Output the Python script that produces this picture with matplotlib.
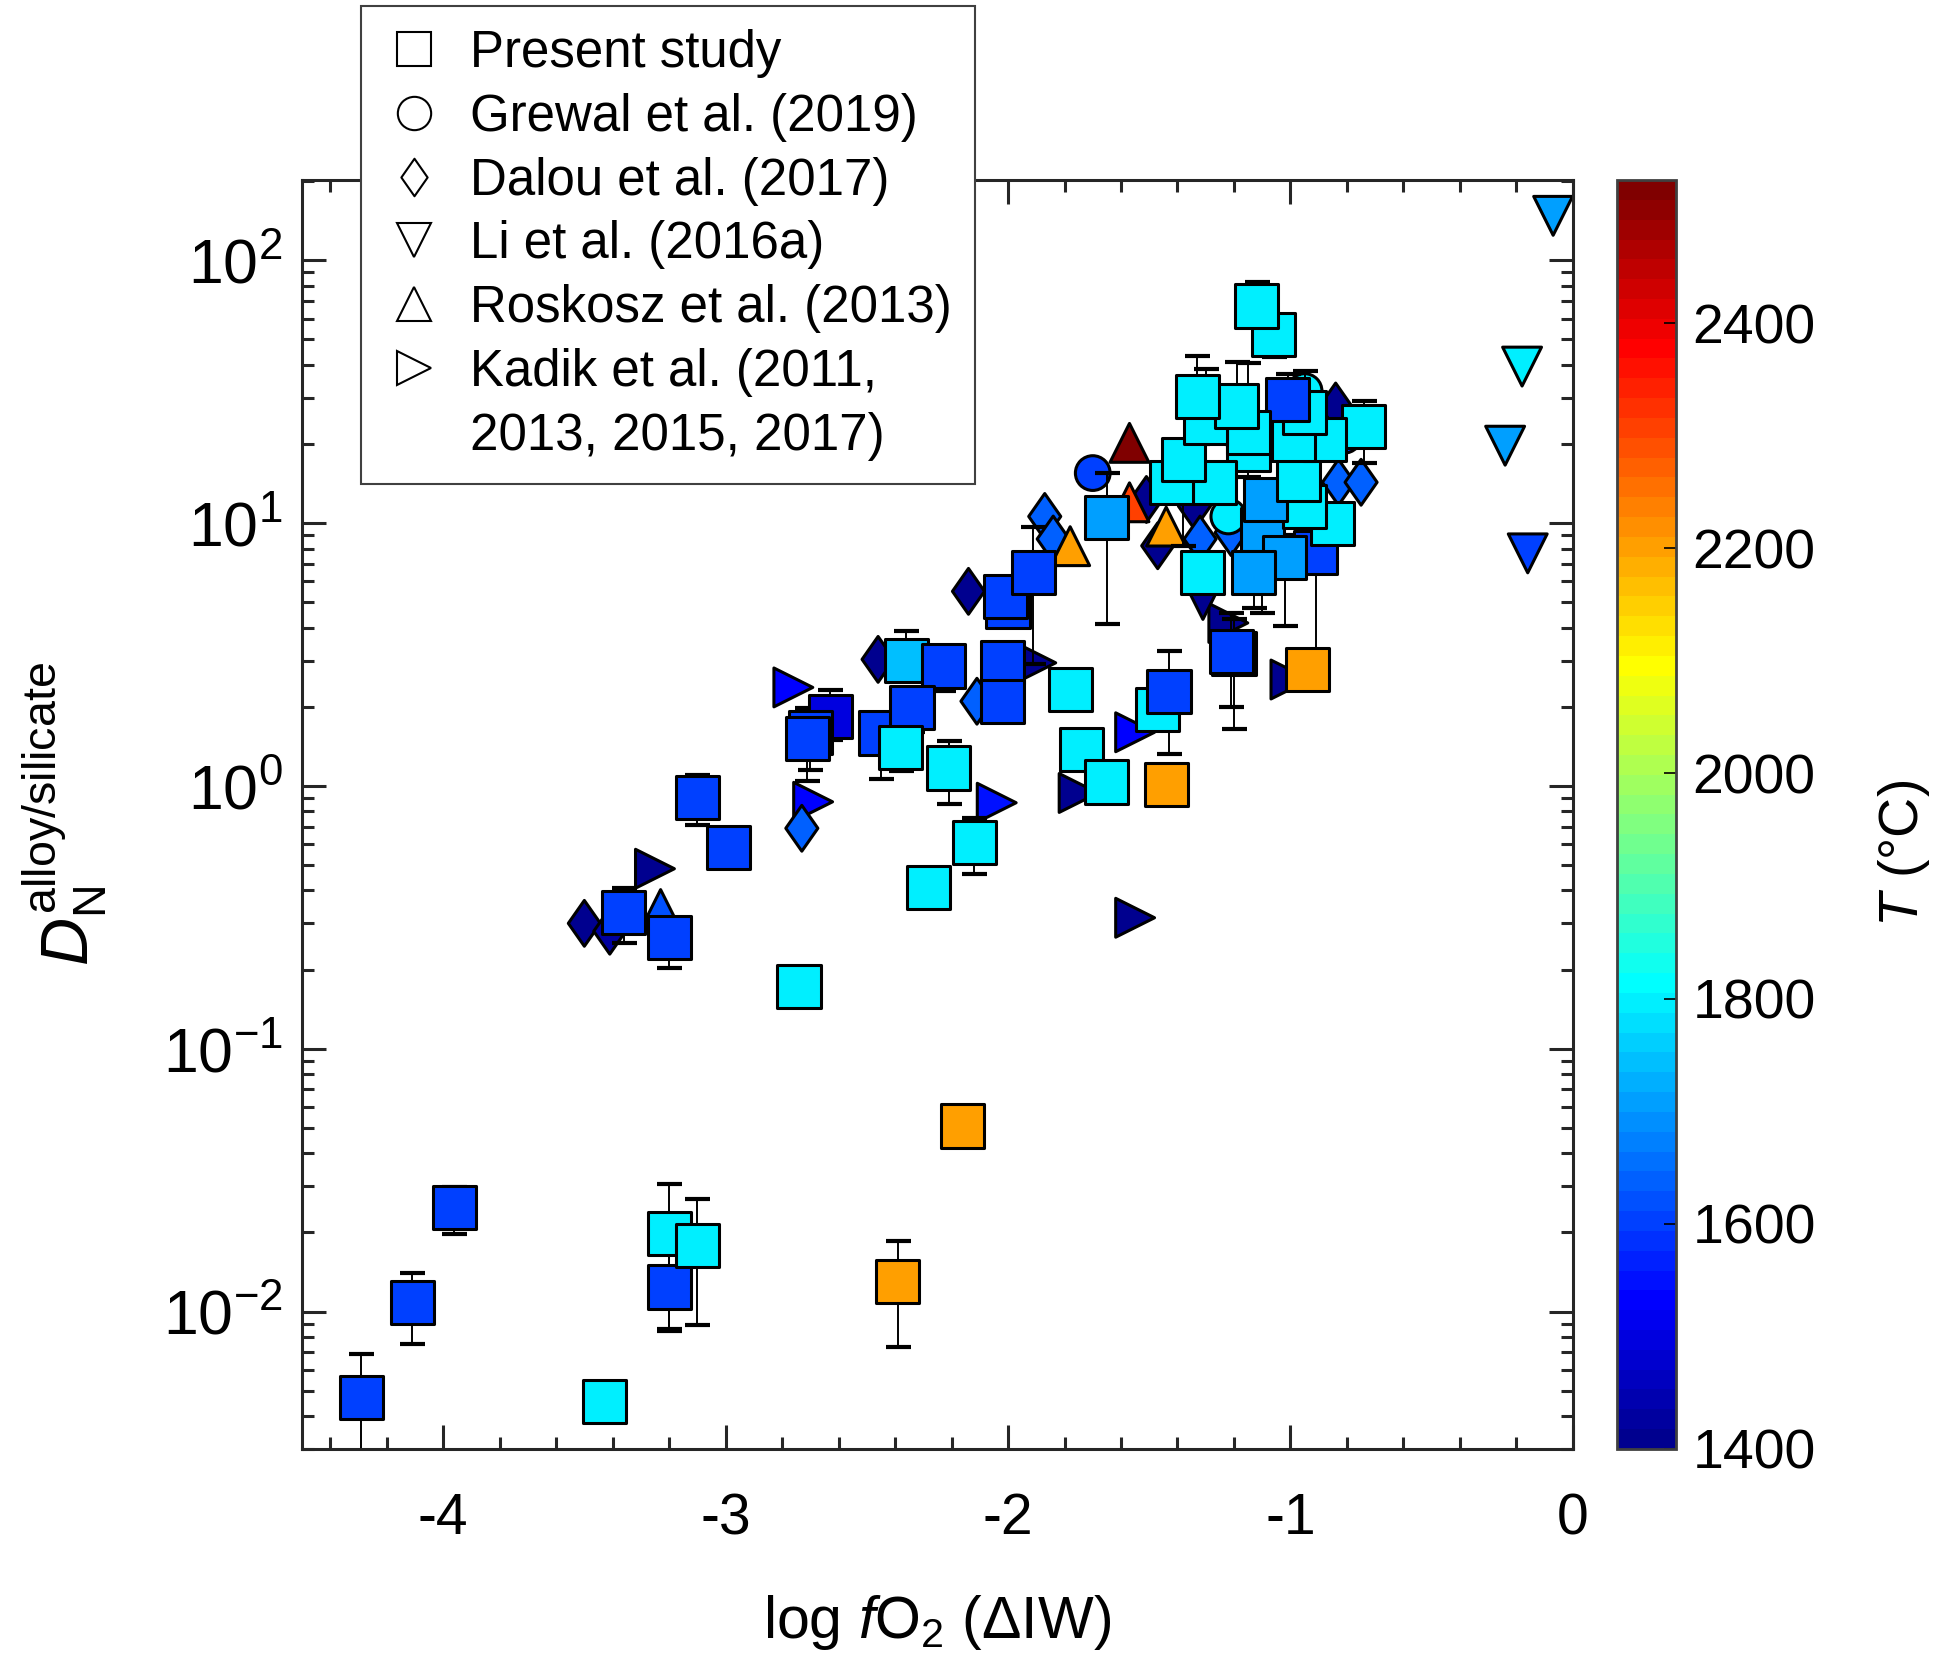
import numpy as np
import matplotlib
matplotlib.use('Agg')
import matplotlib.pyplot as plt
from matplotlib.colors import ListedColormap, Normalize
from matplotlib.lines import Line2D
from matplotlib.path import Path
from matplotlib.ticker import MultipleLocator, FixedLocator, FixedFormatter, LogLocator

plt.rcParams['font.family'] = ['Liberation Sans', 'DejaVu Sans']
plt.rcParams['mathtext.fontset'] = 'custom'
plt.rcParams['mathtext.rm'] = 'Liberation Sans'
plt.rcParams['mathtext.it'] = 'Liberation Sans:italic'
plt.rcParams['mathtext.bf'] = 'Liberation Sans:bold'
plt.rcParams['axes.unicode_minus'] = False

# ---- present study (squares), log fO2, D, error bounds, T (C)
sq_x = [-4.29, -4.11, -3.96, -3.43, -3.20, -3.20, -3.10, -2.39, -2.16, -2.74,
        -2.28, -2.12, -3.36, -3.20, -3.10, -2.99, -2.63, -2.70, -2.71, -2.36,
        -2.23, -2.45, -2.34, -2.38, -2.21, -2.02, -2.02, -2.00, -2.01, -1.91,
        -1.65, -1.78, -1.74, -1.65, -1.47, -1.43, -1.44, -1.20, -1.21, -0.94,
        -0.91, -1.10, -1.02, -1.13, -1.31, -0.85, -0.95, -1.09, -0.97, -1.15,
        -1.27, -1.42, -1.38, -0.74, -0.88, -0.99, -0.95, -1.01, -1.15, -1.30,
        -1.19, -1.33, -1.06, -1.12]
sq_y = [0.0047, 0.0108, 0.0248, 0.00454, 0.0124, 0.0198, 0.0179, 0.0130, 0.0508, 0.173,
        0.411, 0.608, 0.330, 0.264, 0.90, 0.585, 1.84, 1.60, 1.51, 2.99,
        2.86, 1.59, 1.98, 1.40, 1.17, 2.94, 2.10, 4.8, 5.27, 6.47,
        10.5, 2.33, 1.38, 1.035, 1.95, 2.29, 1.01, 3.2, 3.26, 2.77,
        7.7, 9.46, 7.38, 6.47, 6.47, 10.0, 11.6, 12.3, 14.7, 19.1,
        14.3, 14.3, 17.5, 23.4, 20.8, 20.8, 26.3, 29.6, 22.1, 24.1,
        27.9, 30.3, 52.3, 67.0]
sq_lo = [0.0025, 0.0075, 0.0198, 0.0044, 0.0084, 0.0086, 0.0089, 0.0073, np.nan, np.nan,
         np.nan, 0.464, 0.253, 0.203, 0.71, np.nan, 1.5, 1.15, 1.04, 2.5,
         2.3, 1.06, 1.6, 1.14, 0.857, np.nan, np.nan, np.nan, np.nan, 2.9,
         4.12, np.nan, np.nan, np.nan, np.nan, 1.32, 0.96, 1.64, 2.0, 2.6,
         3.0, 4.56, 4.06, 4.76, np.nan, np.nan, np.nan, np.nan, np.nan, np.nan,
         np.nan, np.nan, 8.2, 16.9, np.nan, np.nan, 20.0, 22.0, 15.0, 15.0,
         20.0, 20.0, 42.7, 60.0]
sq_hi = [0.0069, 0.0140, 0.0299, 0.0047, 0.0174, 0.0305, 0.0268, 0.0185, np.nan, np.nan,
         np.nan, 0.755, 0.41, 0.27, 1.1, np.nan, 2.32, 1.9, 1.98, 3.9,
         3.1, 1.9, 2.3, 1.6, 1.48, np.nan, np.nan, np.nan, np.nan, 9.7,
         15.5, np.nan, np.nan, np.nan, np.nan, 3.26, 1.05, 4.3, 4.56, 2.9,
         9.0, 10.5, 9.0, 8.0, np.nan, np.nan, np.nan, np.nan, np.nan, np.nan,
         np.nan, np.nan, 20.4, 29.2, np.nan, np.nan, 37.9, 36.8, 40.5, 38.5,
         41.0, 43.2, 60.0, 82.8]
sq_T = [1600, 1600, 1600, 1800, 1600, 1800, 1800, 2200, 2200, 1800,
        1800, 1800, 1600, 1600, 1600, 1600, 1490, 1600, 1600, 1740,
        1600, 1600, 1600, 1800, 1800, 1600, 1600, 1600, 1600, 1600,
        1700, 1800, 1800, 1800, 1800, 1600, 2200, 1600, 1600, 2200,
        1600, 1700, 1700, 1700, 1800, 1800, 1800, 1700, 1800, 1800,
        1800, 1800, 1800, 1800, 1800, 1800, 1800, 1600, 1800, 1800,
        1800, 1800, 1800, 1800]

# ---- literature data
gr_x = [-1.70, -0.95, -0.81, -1.22]          # Grewal et al. (2019)
gr_y = [15.5, 31.8, 21.5, 10.6]
gr_T = [1600, 1800, 1600, 1800]

da_x = [-3.50, -3.41, -2.73, -2.46, -2.14, -2.11, -1.87, -1.84, -1.51, -1.47,
        -1.34, -1.32, -0.84, -0.83, -0.75, -1.21]   # Dalou et al. (2017)
da_y = [0.30, 0.28, 0.69, 3.03, 5.5, 2.1, 10.6, 8.7, 12.3, 8.2,
        11.6, 8.7, 27.9, 14.3, 14.3, 9.2]
da_T = [1400, 1420, 1640, 1400, 1400, 1640, 1640, 1640, 1400, 1400,
        1400, 1640, 1400, 1640, 1640, 1640]

li_x = [-0.07, -0.18, -0.24, -0.16, -1.31]     # Li et al. (2016a)
li_y = [147.6, 39.4, 19.7, 7.67, 5.1]
li_T = [1700, 1800, 1700, 1600, 1400]

ro_x = [-3.23, -1.78, -1.44, -1.57, -1.57]      # Roskosz et al. (2013)
ro_y = [0.34, 8.17, 9.7, 12.0, 20.2]
ro_T = [1620, 2200, 2210, 2307, 2527]

ka_x = [-3.25, -2.76, -2.69, -1.90, -2.04, -1.55, -1.75, -1.55, -1.22, -1.00]  # Kadik et al.
ka_y = [0.484, 2.37, 0.87, 2.94, 0.863, 1.6, 0.94, 0.315, 4.17, 2.54]
ka_T = [1400, 1525, 1525, 1400, 1550, 1525, 1400, 1400, 1400, 1400]

T_min, T_max = 1400, 2527


def matlab_jet(m=64):
    n = int(np.ceil(m / 4))
    u = np.concatenate([np.arange(1, n + 1) / n, np.ones(n - 1), np.arange(n, 0, -1) / n])
    g = int(np.ceil(n / 2)) - (1 if m % 4 == 1 else 0) + np.arange(1, len(u) + 1)
    r = g + n
    b = g - n
    J = np.zeros((m, 3))
    for idx, ch in ((r, 0), (g, 1), (b, 2)):
        ok = (idx >= 1) & (idx <= m)
        J[idx[ok] - 1, ch] = u[ok]
    return ListedColormap(J)


cmap = matlab_jet(64)
norm = Normalize(T_min, T_max)

diamond = Path([(0, 1), (0.7, 0), (0, -1), (-0.7, 0), (0, 1)], closed=True)

fig = plt.figure(figsize=(19.39, 16.67), dpi=100)
ax = fig.add_axes([0.1557, 0.1308, 0.6555, 0.7612])
cax = fig.add_axes([0.834, 0.1308, 0.0304, 0.7612])

kw = dict(cmap=cmap, norm=norm, edgecolors='k', linewidths=2.2)
ax.scatter(ka_x, ka_y, c=ka_T, marker='>', s=28 ** 2, zorder=2, **kw)
ax.scatter(li_x, li_y, c=li_T, marker='v', s=28 ** 2, zorder=2, **kw)
ax.scatter(da_x, da_y, c=da_T, marker=diamond, s=33 ** 2, zorder=2, **kw)
ax.scatter(gr_x, gr_y, c=gr_T, marker='o', s=25 ** 2, zorder=2, **kw)
ax.scatter(ro_x, ro_y, c=ro_T, marker='^', s=28 ** 2, zorder=2.4, **kw)

sx = np.array(sq_x)
sy = np.array(sq_y)
lo = np.array(sq_lo)
hi = np.array(sq_hi)
m = ~np.isnan(lo)
ax.errorbar(sx[m], sy[m], yerr=[sy[m] - lo[m], hi[m] - sy[m]], fmt='none',
            ecolor='k', elinewidth=1.4, capsize=9, capthick=3, zorder=2.5)
sc = ax.scatter(sx, sy, c=sq_T, marker='s', s=31 ** 2, zorder=3, **kw)

ax.set_yscale('log')
ax.set_xlim(-4.5, 0)
ax.set_ylim(0.003, 202)
ax.xaxis.set_major_locator(FixedLocator([-4, -3, -2, -1, 0]))
ax.xaxis.set_major_formatter(FixedFormatter(['-4', '-3', '-2', '-1', '0']))
ax.xaxis.set_minor_locator(MultipleLocator(0.2))
ax.yaxis.set_major_locator(LogLocator(base=10, numticks=20))
ax.yaxis.set_minor_locator(LogLocator(base=10, subs=np.arange(2, 10), numticks=20))

axcol = '#262626'
for sp in ax.spines.values():
    sp.set_linewidth(2.2)
    sp.set_color(axcol)
ax.tick_params(which='both', direction='in', top=True, right=True, width=2.2,
               color=axcol, labelsize=41)
ax.tick_params(axis='y', labelsize=45)
ax.tick_params(which='major', length=17)
ax.tick_params(which='minor', length=8.5)
ax.tick_params(axis='x', which='major', pad=31)
ax.tick_params(axis='y', which='major', pad=14)

ax.set_xlabel(r'log $f$O$_2$ (ΔIW)', fontsize=42.5, labelpad=34)
ax.set_ylabel(r'$D_{\rm N}^{\rm alloy/silicate}$', fontsize=48)
ax.yaxis.set_label_coords(-0.152, 0.5)

cb = fig.colorbar(sc, cax=cax)
cb.set_ticks([1400, 1600, 1800, 2000, 2200, 2400])
cb.outline.set_edgecolor('#404040')
cb.outline.set_linewidth(2)
cax.tick_params(direction='in', length=9, width=1.2, labelsize=40, pad=12)
fig.text(0.982, 0.488, r'$T$ (°C)', rotation=90, fontsize=40, ha='center', va='center')

# legend (open markers)
h = [Line2D([], [], ls='none', marker='s', ms=25, mfc='none', mec='k', mew=1.5),
     Line2D([], [], ls='none', marker='o', ms=24, mfc='none', mec='k', mew=1.5),
     Line2D([], [], ls='none', marker=diamond, ms=27, mfc='none', mec='k', mew=1.5),
     Line2D([], [], ls='none', marker='v', ms=24, mfc='none', mec='k', mew=1.5),
     Line2D([], [], ls='none', marker='^', ms=24, mfc='none', mec='k', mew=1.5),
     Line2D([], [], ls='none', marker='>', ms=24, mfc='none', mec='k', mew=1.5),
     Line2D([], [], ls='none', marker='none')]
labels = ['Present study', 'Grewal et al. (2019)', 'Dalou et al. (2017)',
          'Li et al. (2016a)', 'Roskosz et al. (2013)', 'Kadik et al. (2011,',
          '2013, 2015, 2017)']
leg = fig.legend(h, labels, loc='upper left', bbox_to_anchor=(0.186, 0.9964),
                 fontsize=36.7, frameon=True, fancybox=False, edgecolor='#404040',
                 framealpha=1, borderpad=0.45, labelspacing=0.29, handlelength=1.2,
                 handletextpad=0.5, borderaxespad=0)
leg.get_frame().set_linewidth(1.5)
leg.set_zorder(10)

fig.savefig('out.png', dpi=100)
